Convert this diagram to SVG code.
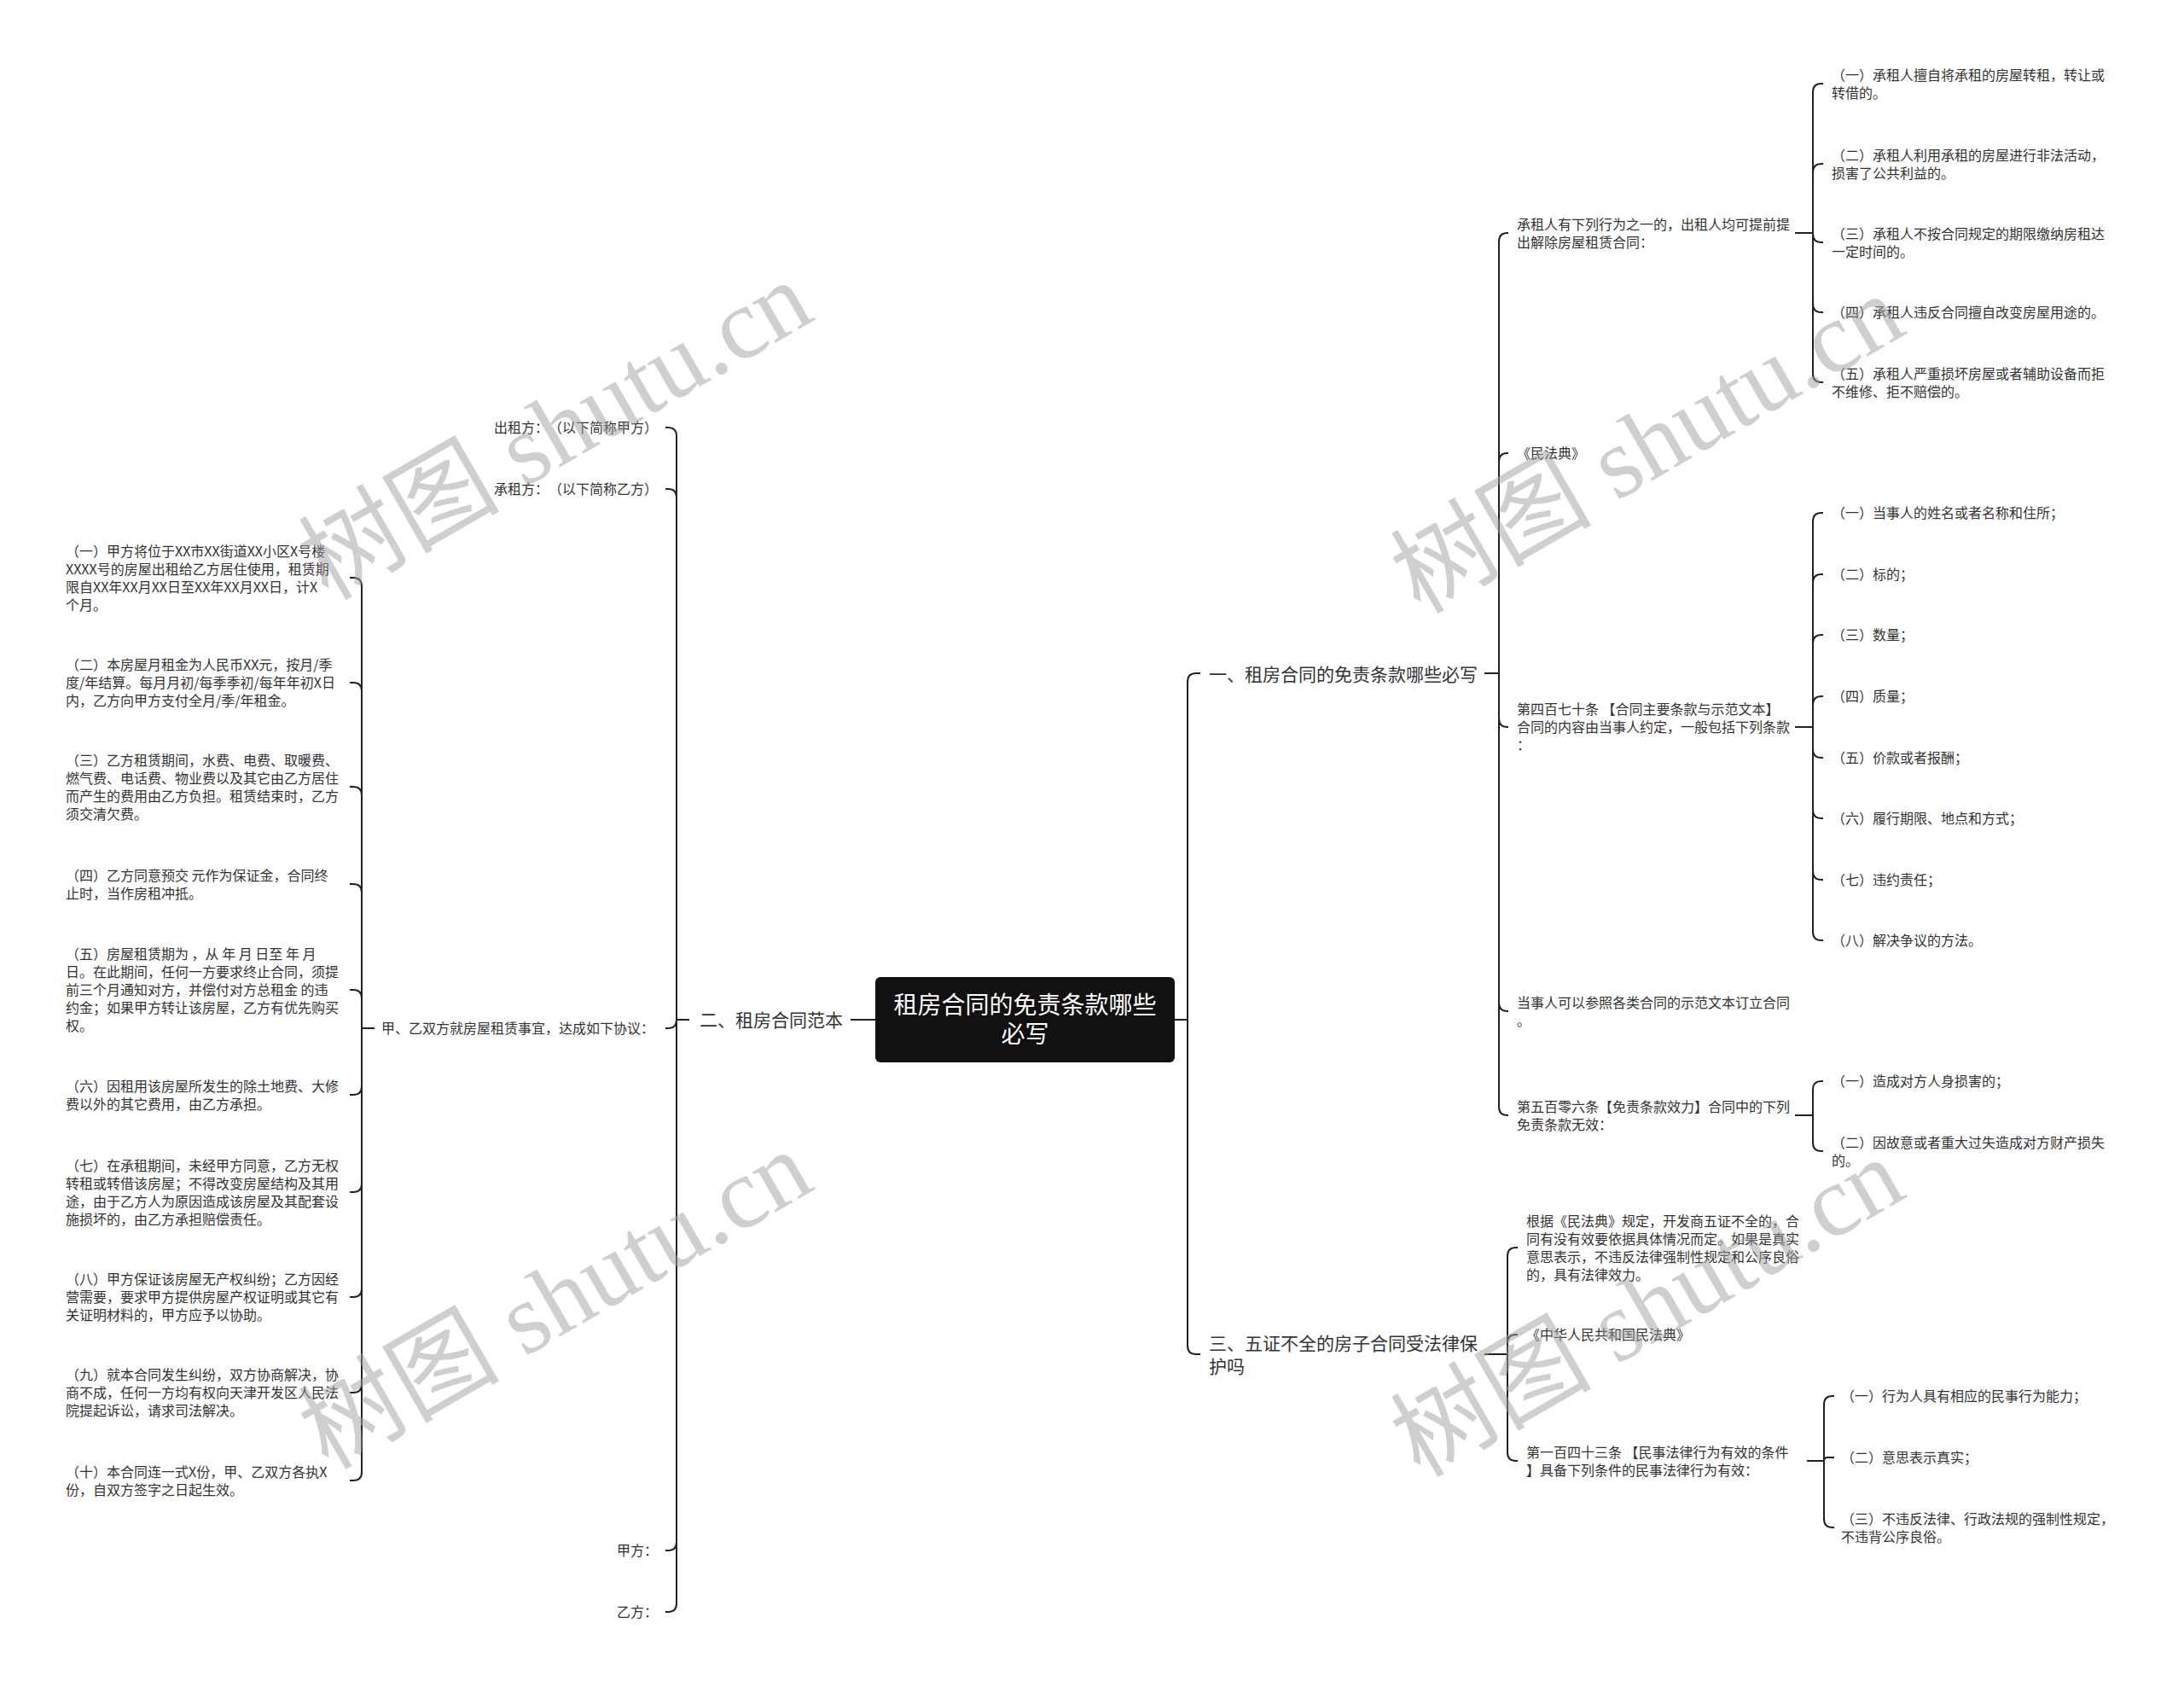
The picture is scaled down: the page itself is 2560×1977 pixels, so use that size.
<svg xmlns="http://www.w3.org/2000/svg" width="2560" height="1977" viewBox="0 0 2560 1977">
<style>
text{font-family:"Noto Sans CJK SC","Noto Sans",sans-serif;fill:#333}
.t{font-size:16px}
.l2{font-size:21px}
.rt{font-size:28px;fill:#fff}
.c path{fill:none;stroke:#222;stroke-width:2}
.wm{font-family:"Liberation Serif","Noto Sans CJK SC",serif;font-size:118px;fill:#a0a0a0;opacity:0.5}
</style>
<rect width="2560" height="1977" fill="#fff"/>
<g class="c" id="connectors">
<path d="M1026,1195 H997"/>
<path d="M1377,1195 H1392 V799 Q1392,789 1402,789 H1407"/>
<path d="M1377,1195 H1392 V1577 Q1392,1587 1402,1587 H1407"/>
<path d="M1740,789 H1757 V283 Q1757,273 1767,273 H1768"/>
<path d="M1740,789 H1757 V541 Q1757,531 1767,531 H1768"/>
<path d="M1740,789 H1757 V842 Q1757,852 1767,852 H1768"/>
<path d="M1740,789 H1757 V1175 Q1757,1185 1767,1185 H1768"/>
<path d="M1740,789 H1757 V1297 Q1757,1307 1767,1307 H1768"/>
<path d="M2104,273 H2125 V108 Q2125,98 2135,98 H2137"/>
<path d="M2104,273 H2125 V202 Q2125,192 2135,192 H2137"/>
<path d="M2104,273 H2125 V274 Q2125,284 2135,284 H2137"/>
<path d="M2104,273 H2125 V356 Q2125,366 2135,366 H2137"/>
<path d="M2104,273 H2125 V438 Q2125,448 2135,448 H2137"/>
<path d="M2104,852 H2125 V611 Q2125,601 2135,601 H2137"/>
<path d="M2104,852 H2125 V683 Q2125,673 2135,673 H2137"/>
<path d="M2104,852 H2125 V754 Q2125,744 2135,744 H2137"/>
<path d="M2104,852 H2125 V826 Q2125,816 2135,816 H2137"/>
<path d="M2104,852 H2125 V878 Q2125,888 2135,888 H2137"/>
<path d="M2104,852 H2125 V949 Q2125,959 2135,959 H2137"/>
<path d="M2104,852 H2125 V1021 Q2125,1031 2135,1031 H2137"/>
<path d="M2104,852 H2125 V1092 Q2125,1102 2135,1102 H2137"/>
<path d="M2104,1307 H2125 V1277 Q2125,1267 2135,1267 H2137"/>
<path d="M2104,1307 H2125 V1339 Q2125,1349 2135,1349 H2137"/>
<path d="M1740,1587 H1767 V1472 Q1767,1462 1777,1462 H1779"/>
<path d="M1740,1587 H1767 V1574 Q1767,1564 1777,1564 H1779"/>
<path d="M1740,1587 H1767 V1702 Q1767,1712 1777,1712 H1779"/>
<path d="M2118,1712 H2138 V1646 Q2138,1636 2148,1636 H2150"/>
<path d="M2118,1712 H2138 Q2138,1708 2142,1708 H2150"/>
<path d="M2118,1712 H2138 V1780 Q2138,1790 2148,1790 H2150"/>
<path d="M808,1195 H793 V511 Q793,501 783,501 H780"/>
<path d="M808,1195 H793 V583 Q793,573 783,573 H780"/>
<path d="M808,1195 H793 Q793,1205 783,1205 H780"/>
<path d="M808,1195 H793 V1807 Q793,1817 783,1817 H780"/>
<path d="M808,1195 H793 V1879 Q793,1889 783,1889 H780"/>
<path d="M439,1205 H424 V687 Q424,677 414,677 H410"/>
<path d="M439,1205 H424 V810 Q424,800 414,800 H410"/>
<path d="M439,1205 H424 V932 Q424,922 414,922 H410"/>
<path d="M439,1205 H424 V1046 Q424,1036 414,1036 H410"/>
<path d="M439,1205 H424 V1170 Q424,1160 414,1160 H410"/>
<path d="M439,1205 H424 V1273 Q424,1283 414,1283 H410"/>
<path d="M439,1205 H424 V1387 Q424,1397 414,1397 H410"/>
<path d="M439,1205 H424 V1510 Q424,1520 414,1520 H410"/>
<path d="M439,1205 H424 V1622 Q424,1632 414,1632 H410"/>
<path d="M439,1205 H424 V1725 Q424,1735 414,1735 H410"/>
</g>
<g id="root">
<rect x="1026" y="1145" width="351" height="100" rx="6" fill="#111"/>
<text class="rt" text-anchor="middle" x="1201.5" y="1188">租房合同的免责条款哪些</text>
<text class="rt" text-anchor="middle" x="1201.5" y="1222">必写</text>
</g>
<g id="n1"><text class="l2" x="1417" y="798">一、租房合同的免责条款哪些必写</text></g>
<g id="n2"><text class="l2" x="820" y="1203">二、租房合同范本</text></g>
<g id="n3"><text class="l2" x="1417" y="1581.5">三、五证不全的房子合同受法律保<tspan x="1417" dy="27">护吗</tspan></text></g>
<g id="n1-1"><text class="t" x="1778" y="268.5">承租人有下列行为之一的，出租人均可提前提<tspan x="1778" dy="21">出解除房屋租赁合同：</tspan></text></g>
<g id="n1-1-1"><text class="t" x="2147" y="93.5">（一）承租人擅自将承租的房屋转租，转让或<tspan x="2147" dy="21">转借的。</tspan></text></g>
<g id="n1-1-2"><text class="t" x="2147" y="187.5">（二）承租人利用承租的房屋进行非法活动，<tspan x="2147" dy="21">损害了公共利益的。</tspan></text></g>
<g id="n1-1-3"><text class="t" x="2147" y="279.5">（三）承租人不按合同规定的期限缴纳房租达<tspan x="2147" dy="21">一定时间的。</tspan></text></g>
<g id="n1-1-4"><text class="t" x="2147" y="372">（四）承租人违反合同擅自改变房屋用途的。</text></g>
<g id="n1-1-5"><text class="t" x="2147" y="443.5">（五）承租人严重损坏房屋或者辅助设备而拒<tspan x="2147" dy="21">不维修、拒不赔偿的。</tspan></text></g>
<g id="n1-2"><text class="t" x="1778" y="537">《民法典》</text></g>
<g id="n1-3"><text class="t" x="1778" y="837">第四百七十条 【合同主要条款与示范文本】<tspan x="1778" dy="21">合同的内容由当事人约定，一般包括下列条款</tspan><tspan x="1778" dy="21">：</tspan></text></g>
<g id="n1-3-1"><text class="t" x="2147" y="607">（一）当事人的姓名或者名称和住所；</text></g>
<g id="n1-3-2"><text class="t" x="2147" y="679">（二）标的；</text></g>
<g id="n1-3-3"><text class="t" x="2147" y="750">（三）数量；</text></g>
<g id="n1-3-4"><text class="t" x="2147" y="822">（四）质量；</text></g>
<g id="n1-3-5"><text class="t" x="2147" y="894">（五）价款或者报酬；</text></g>
<g id="n1-3-6"><text class="t" x="2147" y="965">（六）履行期限、地点和方式；</text></g>
<g id="n1-3-7"><text class="t" x="2147" y="1037">（七）违约责任；</text></g>
<g id="n1-3-8"><text class="t" x="2147" y="1108">（八）解决争议的方法。</text></g>
<g id="n1-4"><text class="t" x="1778" y="1180.5">当事人可以参照各类合同的示范文本订立合同<tspan x="1778" dy="21">。</tspan></text></g>
<g id="n1-5"><text class="t" x="1778" y="1302.5">第五百零六条【免责条款效力】合同中的下列<tspan x="1778" dy="21">免责条款无效：</tspan></text></g>
<g id="n1-5-1"><text class="t" x="2147" y="1273">（一）造成对方人身损害的；</text></g>
<g id="n1-5-2"><text class="t" x="2147" y="1344.5">（二）因故意或者重大过失造成对方财产损失<tspan x="2147" dy="21">的。</tspan></text></g>
<g id="n3-1"><text class="t" x="1789" y="1436.5">根据《民法典》规定，开发商五证不全的，合<tspan x="1789" dy="21">同有没有效要依据具体情况而定。如果是真实</tspan><tspan x="1789" dy="21">意思表示，不违反法律强制性规定和公序良俗</tspan><tspan x="1789" dy="21">的，具有法律效力。</tspan></text></g>
<g id="n3-2"><text class="t" x="1789" y="1570">《中华人民共和国民法典》</text></g>
<g id="n3-3"><text class="t" x="1789" y="1707.5">第一百四十三条 【民事法律行为有效的条件<tspan x="1789" dy="21">】具备下列条件的民事法律行为有效：</tspan></text></g>
<g id="n3-3-1"><text class="t" x="2158" y="1642">（一）行为人具有相应的民事行为能力；</text></g>
<g id="n3-3-2"><text class="t" x="2158" y="1714">（二）意思表示真实；</text></g>
<g id="n3-3-3"><text class="t" x="2158" y="1785.5">（三）不违反法律、行政法规的强制性规定，<tspan x="2158" dy="21">不违背公序良俗。</tspan></text></g>
<g id="n2-1"><text class="t" text-anchor="end" x="771" y="507">出租方：　（以下简称甲方）</text></g>
<g id="n2-2"><text class="t" text-anchor="end" x="771" y="579">承租方：　（以下简称乙方）</text></g>
<g id="n2-3"><text class="t" x="447" y="1211">甲、乙双方就房屋租赁事宜，达成如下协议：</text></g>
<g id="n2-4"><text class="t" text-anchor="end" x="771" y="1823">甲方：</text></g>
<g id="n2-5"><text class="t" text-anchor="end" x="771" y="1895">乙方：</text></g>
<g id="n2-3-1"><text class="t" x="77" y="651.5">（一）甲方将位于XX市XX街道XX小区X号楼<tspan x="77" dy="21">XXXX号的房屋出租给乙方居住使用，租赁期</tspan><tspan x="77" dy="21">限自XX年XX月XX日至XX年XX月XX日，计X</tspan><tspan x="77" dy="21">个月。</tspan></text></g>
<g id="n2-3-2"><text class="t" x="77" y="785">（二）本房屋月租金为人民币XX元，按月/季<tspan x="77" dy="21">度/年结算。每月月初/每季季初/每年年初X日</tspan><tspan x="77" dy="21">内，乙方向甲方支付全月/季/年租金。</tspan></text></g>
<g id="n2-3-3"><text class="t" x="77" y="896.5">（三）乙方租赁期间，水费、电费、取暖费、<tspan x="77" dy="21">燃气费、电话费、物业费以及其它由乙方居住</tspan><tspan x="77" dy="21">而产生的费用由乙方负担。租赁结束时，乙方</tspan><tspan x="77" dy="21">须交清欠费。</tspan></text></g>
<g id="n2-3-4"><text class="t" x="77" y="1031.5">（四）乙方同意预交 元作为保证金，合同终<tspan x="77" dy="21">止时，当作房租冲抵。</tspan></text></g>
<g id="n2-3-5"><text class="t" x="77" y="1124">（五）房屋租赁期为 ，从 年 月 日至 年 月<tspan x="77" dy="21">日。在此期间，任何一方要求终止合同，须提</tspan><tspan x="77" dy="21">前三个月通知对方，并偿付对方总租金 的违</tspan><tspan x="77" dy="21">约金；如果甲方转让该房屋，乙方有优先购买</tspan><tspan x="77" dy="21">权。</tspan></text></g>
<g id="n2-3-6"><text class="t" x="77" y="1278.5">（六）因租用该房屋所发生的除土地费、大修<tspan x="77" dy="21">费以外的其它费用，由乙方承担。</tspan></text></g>
<g id="n2-3-7"><text class="t" x="77" y="1371.5">（七）在承租期间，未经甲方同意，乙方无权<tspan x="77" dy="21">转租或转借该房屋；不得改变房屋结构及其用</tspan><tspan x="77" dy="21">途，由于乙方人为原因造成该房屋及其配套设</tspan><tspan x="77" dy="21">施损坏的，由乙方承担赔偿责任。</tspan></text></g>
<g id="n2-3-8"><text class="t" x="77" y="1505">（八）甲方保证该房屋无产权纠纷；乙方因经<tspan x="77" dy="21">营需要，要求甲方提供房屋产权证明或其它有</tspan><tspan x="77" dy="21">关证明材料的，甲方应予以协助。</tspan></text></g>
<g id="n2-3-9"><text class="t" x="77" y="1617">（九）就本合同发生纠纷，双方协商解决，协<tspan x="77" dy="21">商不成，任何一方均有权向天津开发区人民法</tspan><tspan x="77" dy="21">院提起诉讼，请求司法解决。</tspan></text></g>
<g id="n2-3-10"><text class="t" x="77" y="1730.5">（十）本合同连一式X份，甲、乙双方各执X<tspan x="77" dy="21">份，自双方签字之日起生效。</tspan></text></g>
<g id="watermarks">
<text class="wm" text-anchor="middle" transform="translate(671,539) rotate(-30)">树图 shutu.cn</text>
<text class="wm" text-anchor="middle" transform="translate(1951,555) rotate(-30)">树图 shutu.cn</text>
<text class="wm" text-anchor="middle" transform="translate(671,1558) rotate(-30)">树图 shutu.cn</text>
<text class="wm" text-anchor="middle" transform="translate(1951,1567) rotate(-30)">树图 shutu.cn</text>
</g>
</svg>
